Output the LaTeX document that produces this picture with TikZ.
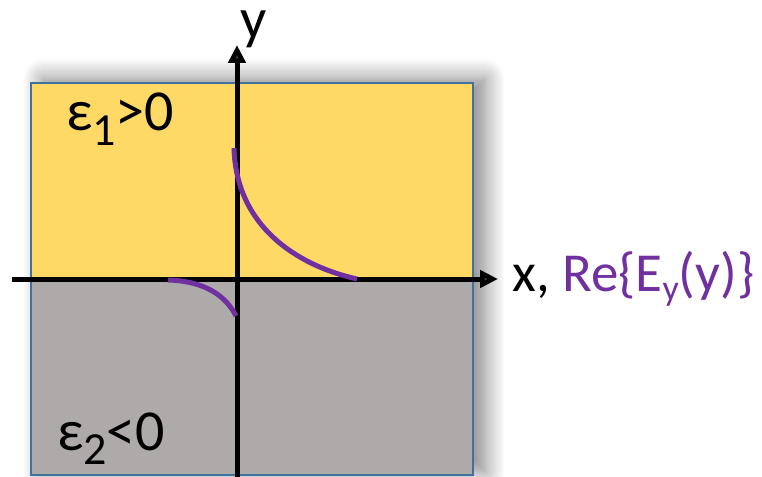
\documentclass[tikz,border=0pt]{standalone}
\usepackage{fontspec}
\setmainfont{Carlito}
\usetikzlibrary{arrows.meta,positioning,shadows.blur}
\definecolor{dielyellow}{HTML}{FFD966}
\definecolor{metalgray}{HTML}{AEAAAA}
\definecolor{slabedge}{HTML}{41719C}
\definecolor{fieldpurple}{HTML}{7030A0}

\begin{document}
\begin{tikzpicture}[
  x=1pt, y=-1pt,
  >={Triangle[length=18pt,width=17pt]},
  axis/.style={line width=5pt, ->},
  field/.style={line width=5pt, draw=fieldpurple},
  big/.style={font=\fontsize{58}{58}\selectfont, inner sep=0pt}
]
  \useasboundingbox (0,0) rectangle (762,476);
  \clip (0,0) rectangle (762,476);
  % the two half spaces
  \path[fill=white, blur shadow={shadow xshift=12pt, shadow yshift=4pt,
        shadow blur radius=20pt, shadow blur steps=12, shadow opacity=50}]
    (31,83) rectangle (473,475);
  \fill[dielyellow] (31,83) rectangle (473,279);
  \fill[metalgray] (31,279) rectangle (473,475);
  \draw[slabedge, line width=1.2pt] (31,83) rectangle (473,475);
  \node[big, anchor=base west] (eps1) at (66,130)
    {ε\raisebox{-15pt}{\fontsize{46}{46}\selectfont 1}>0};
  \node[big, anchor=base west] (eps2) at (57,450)
    {ε\raisebox{-14pt}{\fontsize{46}{46}\selectfont 2}<0};
  % axes
  \coordinate (xs) at (12,279);
  \coordinate (xe) at (498,279);
  \coordinate (ys) at (237,480);
  \coordinate (ye) at (237,45);
  \draw[axis] (xs) -- (xe);
  \draw[axis] (ys) -- (ye);
  \node[big, anchor=base] (ylab) at (254,39) {y};
  \node[big, font=\fontsize{55}{55}\selectfont, anchor=base west] (xlab) at (512,291)
    {x, \textcolor{fieldpurple}{Re\{E\raisebox{-9pt}{\fontsize{36}{36}\selectfont y}(y)\}}};
  % field profile
  \draw[field] (234,148) .. controls (236,225) and (295,265) .. (357,279);
  \draw[field] (168,280) .. controls (205,281) and (226,296) .. (236,316);
\end{tikzpicture}
\end{document}
